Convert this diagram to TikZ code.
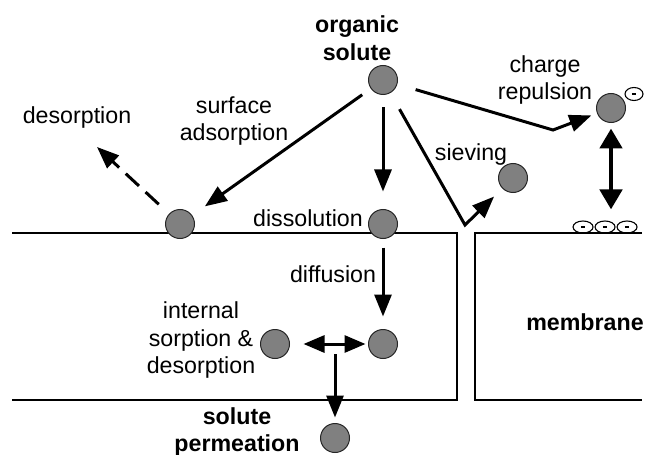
\documentclass[tikz,border=0pt]{standalone}
\usepackage{fontspec}
\setmainfont{Liberation Sans}
\usetikzlibrary{positioning,arrows.meta,shapes.geometric}

\begin{document}
\begin{tikzpicture}[x=0.5pt,y=-0.5pt,
    solute/.style={circle,draw=black!85,line width=0.5pt,fill=black!50,minimum size=14.5pt,inner sep=0pt},
    ion/.style={ellipse,draw,line width=0.55pt,minimum width=10pt,minimum height=6pt,inner sep=0pt,
      path picture={\draw[line width=0.7pt] ([xshift=-1.1pt]path picture bounding box.center) -- ([xshift=1.1pt]path picture bounding box.center);}},
    lbl/.style={font=\fontsize{11.6}{13.8}\selectfont,align=center,inner sep=1pt},
    bold/.style={lbl,font=\fontsize{11.6}{13.8}\selectfont\bfseries},
    flow/.style={-{Triangle[length=11pt,width=8.5pt]},line width=1.5pt},
    both/.style={{Triangle[length=10.5pt,width=8.5pt]}-{Triangle[length=10.5pt,width=8.5pt]},line width=1.5pt},
    push/.style={{Triangle[length=10pt,width=11pt]}-{Triangle[length=10pt,width=11pt]},line width=2.4pt},
    wall/.style={line width=1pt}]
  \useasboundingbox (0,0) rectangle (646,454);

  % membrane blocks
  \draw[wall] (12,233) -- (457,233) -- (457,400) -- (12,400);
  \draw[wall] (642,233) -- (475,233) -- (475,400) -- (642,400);

  % solutes
  \node[solute] (org) at (383,80) {};
  \node[solute] (ads) at (180,224) {};
  \node[solute] (diss) at (383,224) {};
  \node[solute] (sieve) at (513,178) {};
  \node[solute] (charge) at (611,108) {};
  \node[solute] (inL) at (275,344) {};
  \node[solute] (inR) at (383,344) {};
  \node[solute] (perm) at (335,438) {};

  % charges
  \node[ion,minimum width=9pt,minimum height=6.5pt] (ionC) at (634,94) {};
  \node[ion] (ionA) at (583,227) {};
  \node[ion] (ionB) at (605,227) {};
  \node[ion] (ionD) at (627,227) {};

  % labels
  \node[bold] (tOrg) at (357,38) {organic\\solute};
  \node[lbl] (tCharge) at (545,80) {charge\\repulsion};
  \node[lbl] (tSieve) at (471,155) {sieving};
  \node[lbl] (tAds) at (234,121) {surface\\adsorption};
  \node[lbl] (tDes) at (77,118) {desorption};
  \node[lbl] (tDiss) at (308,218) {dissolution};
  \node[lbl] (tDiff) at (333,274) {diffusion};
  \node[lbl] (tInt) at (201,340) {internal\\sorption \&\\desorption};
  \node[bold] (tPerm) at (237,432) {solute\\permeation};
  \node[bold] (tMem) at (585,322) {membrane};

  % paths
  \coordinate (cBend) at (553,130);
  \coordinate (sBend) at (465,225);
  \coordinate (desEnd) at (97,147);
  \coordinate (split) at (335,344);

  \draw[flow,shorten <=6.25pt,shorten >=8.75pt] (org) -- (diss);
  \draw[flow,shorten <=5.25pt,shorten >=7.75pt] (org) -- (ads);
  \draw[flow,shorten <=9.5pt,shorten >=3pt] (org) -- (cBend) -- (charge);
  \draw[flow,shorten <=9.25pt,shorten >=5.75pt] (org) -- (sBend) -- (sieve);
  \draw[flow,dash pattern=on 9pt off 4.5pt,shorten <=7pt] (ads) -- (desEnd);
  \draw[push,shorten <=2.75pt,shorten >=5.5pt] (charge) -- (charge |- ionB.north);
  \draw[flow,shorten <=4.25pt,shorten >=6.25pt] (diss) -- (inR);
  \draw[both,shorten <=6.75pt,shorten >=1.25pt] (inL) -- (inR);
  \draw[flow,shorten <=5pt,shorten >=2.75pt] (split) -- (perm);
\end{tikzpicture}
\end{document}
